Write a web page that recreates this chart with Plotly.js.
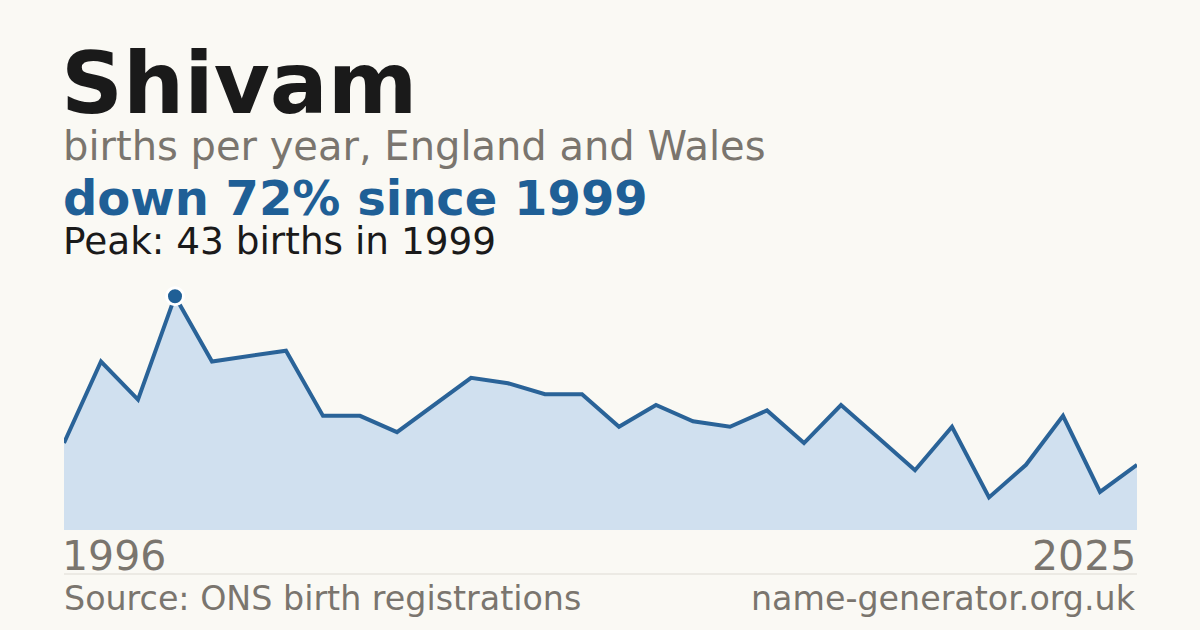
<!DOCTYPE html>
<html>
<head>
<meta charset="utf-8">
<script src="https://cdn.plot.ly/plotly-3.0.1.min.js"></script>
<style>
  html, body { margin: 0; padding: 0; background: #faf9f4; }
  #chart { width: 1200px; height: 630px; }
</style>
</head>
<body>
<div id="chart"></div>
<script>
// births per year for "Shivam"
const years = [];
for (let y = 1996; y <= 2025; y++) years.push(y);
const births = [16, 31, 24, 43, 31, 32, 33, 21, 21, 18,
                23, 28, 27, 25, 25, 19, 23, 20, 19, 22,
                16, 23, 17, 11, 19, 6, 12, 21, 7, 12];

const name = 'Shivam';
const subtitle = 'births per year, England and Wales';
const sourceText = 'Source: ONS birth registrations';
const siteText = 'name-generator.org.uk';

const peakIdx = births.indexOf(Math.max(...births));
const peakYear = years[peakIdx];
const peakVal = births[peakIdx];
const lastVal = births[births.length - 1];
const change = Math.round((1 - lastVal / peakVal) * 100);

const font = '"DejaVu Sans", Verdana, sans-serif';
const gray = '#7a756e';
const blue = '#1f5f96';

// plot area spans x 64..1137 px, y 280..530 px
const plotTop = 280, plotBottom = 530;
const py = p => (plotBottom - p) / (plotBottom - plotTop);

const area = {
  x: years, y: births, type: 'scatter', mode: 'lines',
  fill: 'tozeroy', fillcolor: '#d0e0ef',
  line: { color: '#2a6398', width: 4 },
  hoverinfo: 'skip'
};
const peak = {
  x: [peakYear], y: [peakVal], type: 'scatter', mode: 'markers',
  marker: { color: blue, size: 17, line: { color: '#ffffff', width: 3 } },
  hoverinfo: 'skip'
};

function label(text, yPix, size, color, opts) {
  return Object.assign({
    text: text, xref: 'paper', yref: 'paper', x: 0, y: py(yPix),
    xanchor: 'left', yanchor: 'middle', showarrow: false,
    font: { family: font, size: size, color: color }
  }, opts || {});
}

const annotations = [
  label('<b>' + name + '</b>', 82.6, 86, '#1a1a1a', { xshift: -5 }),
  label(subtitle, 146.2, 40, gray, { xshift: -3 }),
  label('<b>down ' + change + '% since ' + peakYear + '</b>', 198.4, 48, blue, { xshift: -3 }),
  label('Peak: ' + peakVal + ' births in ' + peakYear, 241.2, 37.4, '#1a1a1a', { xshift: -3 }),
  label(String(years[0]), 556.2, 41, gray, { xshift: -4 }),
  label(String(years[years.length - 1]), 556.2, 41, gray, { x: 1, xanchor: 'right', xshift: 1 }),
  label(sourceText, 598.9, 33.3, gray, { xshift: -2 }),
  label(siteText, 598.9, 33.3, gray, { x: 1, xanchor: 'right', xshift: 1 })
];

const layout = {
  width: 1200, height: 630,
  paper_bgcolor: '#faf9f4', plot_bgcolor: '#faf9f4',
  margin: { l: 64, r: 63, t: plotTop, b: 630 - plotBottom },
  showlegend: false,
  xaxis: { range: [years[0], years[years.length - 1]], visible: false, fixedrange: true },
  yaxis: { range: [0, 46], visible: false, fixedrange: true },
  annotations: annotations,
  shapes: [{
    type: 'line', xref: 'paper', yref: 'paper', x0: 0, x1: 1,
    y0: py(574), y1: py(574), line: { color: '#dedbd4', width: 1 }
  }]
};

Plotly.newPlot('chart', [area, peak], layout, { displayModeBar: false, staticPlot: true });
</script>
</body>
</html>
